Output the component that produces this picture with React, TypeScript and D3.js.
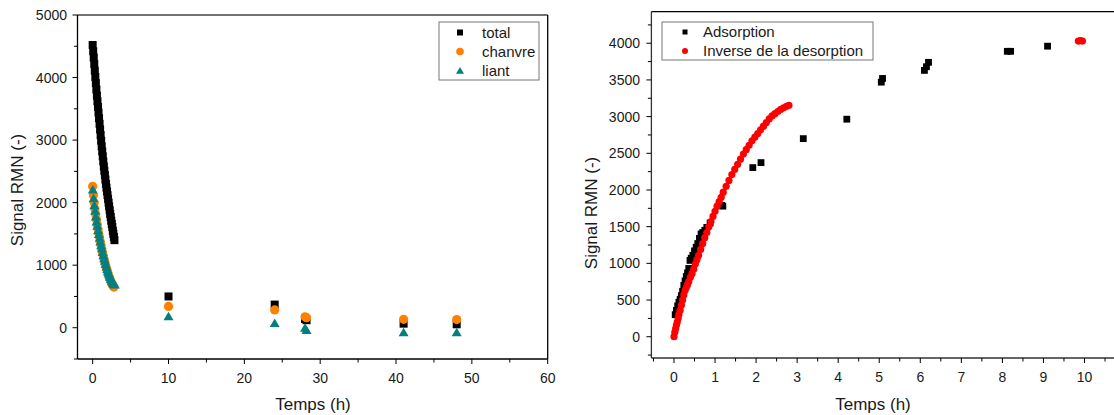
import React from "react";
import * as d3 from "d3";

// ---------- Left chart data ----------
const totalT = [0, 0.07, 0.14, 0.21, 0.28, 0.35, 0.42, 0.49, 0.56, 0.63, 0.7, 0.77, 0.84, 0.91, 0.98, 1.05, 1.12, 1.19, 1.26, 1.33, 1.4, 1.47, 1.54, 1.61, 1.68, 1.75, 1.82, 1.89, 1.96, 2.03, 2.1, 2.17, 2.24, 2.31, 2.38, 2.45, 2.52, 2.59, 2.66, 2.73, 2.8, 2.87, 10, 24, 28, 28.2, 41, 48];
const totalV = [4520, 4420, 4320, 4220, 4110, 4010, 3910, 3810, 3710, 3620, 3530, 3440, 3350, 3260, 3170, 3080, 2990, 2900, 2820, 2740, 2660, 2580, 2510, 2440, 2370, 2300, 2240, 2180, 2120, 2060, 2000, 1940, 1880, 1820, 1770, 1710, 1660, 1610, 1550, 1500, 1450, 1400, 500, 370, 140, 120, 65, 55];

const chanvreT = [0, 0.1, 0.2, 0.3, 0.4, 0.5, 0.6, 0.7, 0.8, 0.9, 1.0, 1.1, 1.2, 1.3, 1.4, 1.5, 1.6, 1.7, 1.8, 1.9, 2.0, 2.1, 2.2, 2.3, 2.4, 2.5, 2.6, 2.7, 2.8, 10, 24, 28, 28.2, 41, 48];
const chanvreV = [2260, 2120, 2000, 1900, 1810, 1730, 1650, 1580, 1510, 1450, 1380, 1320, 1260, 1200, 1150, 1100, 1050, 1000, 960, 920, 880, 840, 800, 770, 740, 710, 690, 665, 650, 340, 285, 175, 160, 135, 130];

const liantT = [0.02, 0.12, 0.22, 0.32, 0.42, 0.52, 0.62, 0.72, 0.82, 0.92, 1.02, 1.12, 1.22, 1.32, 1.42, 1.52, 1.62, 1.72, 1.82, 1.92, 2.02, 2.12, 2.22, 2.32, 2.42, 2.52, 2.62, 2.72, 2.82, 2.92, 10, 24, 28, 28.2, 41, 48];
const liantV = [2200, 2060, 1950, 1860, 1770, 1690, 1620, 1550, 1490, 1430, 1370, 1310, 1260, 1200, 1150, 1100, 1060, 1010, 970, 930, 890, 860, 830, 800, 770, 745, 720, 700, 690, 680, 175, 65, -10, -45, -80, -80];

const leftXTicks = [0, 10, 20, 30, 40, 50, 60];
const leftXMinor = [5, 15, 25, 35, 45, 55];
const leftYTicks = [0, 1000, 2000, 3000, 4000, 5000];
const leftYMinor = [-500, 500, 1500, 2500, 3500, 4500];
const leftLegend = ["total", "chanvre", "liant"];

// ---------- Right chart data ----------
const adsT = [0.03, 0.06, 0.09, 0.12, 0.15, 0.18, 0.21, 0.24, 0.27, 0.3, 0.33, 0.36, 0.39, 0.42, 0.46, 0.5, 0.54, 0.58, 0.62, 0.66, 0.7, 0.75, 0.8, 0.88, 1.16, 1.19, 1.92, 2.12, 3.15, 4.21, 5.05, 5.08, 6.1, 6.15, 6.2, 8.12, 8.2, 9.1];
const adsV = [300, 360, 420, 470, 510, 560, 620, 700, 760, 820, 870, 930, 1040, 1070, 1110, 1170, 1220, 1270, 1340, 1400, 1420, 1450, 1490, 1550, 1790, 1780, 2305, 2373, 2700, 2965, 3470, 3520, 3630, 3680, 3740, 3890, 3890, 3960];

const desT = [0, 0.02, 0.04, 0.06, 0.08, 0.1, 0.12, 0.15, 0.18, 0.21, 0.24, 0.27, 0.3, 0.33, 0.36, 0.4, 0.44, 0.48, 0.52, 0.56, 0.6, 0.65, 0.7, 0.75, 0.8, 0.85, 0.9, 0.95, 1.0, 1.05, 1.1, 1.15, 1.2, 1.27, 1.34, 1.41, 1.48, 1.55, 1.62, 1.69, 1.76, 1.83, 1.9, 1.97, 2.04, 2.11, 2.18, 2.25, 2.32, 2.39, 2.46, 2.53, 2.6, 2.67, 2.74, 2.8, 9.85, 9.9, 9.95];
const desV = [0, 60, 110, 160, 200, 250, 300, 360, 430, 500, 570, 630, 670, 710, 750, 810, 860, 920, 990, 1050, 1110, 1190, 1270, 1350, 1420, 1500, 1570, 1640, 1710, 1780, 1840, 1900, 1970, 2050, 2130, 2210, 2280, 2350, 2420, 2490, 2550, 2610, 2670, 2720, 2770, 2820, 2870, 2920, 2970, 3010, 3040, 3070, 3100, 3120, 3140, 3155, 4030, 4035, 4030];

const rightXTicks = [0, 1, 2, 3, 4, 5, 6, 7, 8, 9, 10];
const rightXMinor = [-0.5, 0.5, 1.5, 2.5, 3.5, 4.5, 5.5, 6.5, 7.5, 8.5, 9.5, 10.5];
const rightYTicks = [0, 500, 1000, 1500, 2000, 2500, 3000, 3500, 4000];
const rightYMinor = [-250, 250, 750, 1250, 1750, 2250, 2750, 3250, 3750, 4250];
const rightLegend = ["Adsorption", "Inverse de la desorption"];

const FONT = "Arial, 'Liberation Sans', sans-serif";
const ORANGE = "#FF8000";
const TEAL = "#008080";
const RED = "#FF0000";

const tri = (cx: number, cy: number, w: number) => {
  const h = w * 0.85;
  return `M${cx},${cy - h * 0.6}L${cx + w / 2},${cy + h * 0.4}L${cx - w / 2},${cy + h * 0.4}Z`;
};

export default function App() {
  // Left chart scales
  const lx = d3.scaleLinear().domain([-2, 60]).range([77.5, 547.7]);
  const ly = d3.scaleLinear().domain([-500, 5000]).range([359, 15]);
  const lLeft = 77.5, lRight = 547.7, lTop = 15, lBottom = 359;

  // Right chart scales
  const rx = d3.scaleLinear().domain([-0.55, 10.85]).range([651.4, 1119.4]);
  const ry = d3.scaleLinear().domain([-290, 4430]).range([358, 11.7]);
  const rLeft = 651.4, rTop = 11.7, rBottom = 358;

  const tickText = { fontFamily: FONT, fontSize: 14, fill: "#1a1a1a" } as const;
  const legText = { fontFamily: FONT, fontSize: 15, fill: "#1a1a1a" } as const;
  const titleText = { fontFamily: FONT, fontSize: 17, fill: "#1a1a1a" } as const;

  return (
    <div style={{ position: "absolute", left: 0, top: 0 }}>
      <svg width={1114} height={415} style={{ display: "block", background: "#fff" }}>
        <rect x={0} y={0} width={1114} height={415} fill="#fff" />
        {/* ===== LEFT CHART ===== */}
        <g>
          {totalT.map((t, i) => (
            <rect key={"tot" + i} x={lx(t) - 4} y={ly(totalV[i]) - 4} width={8} height={8} fill="#000" />
          ))}
          {chanvreT.map((t, i) => (
            <circle key={"ch" + i} cx={lx(t)} cy={ly(chanvreV[i])} r={4.6} fill={ORANGE} />
          ))}
          {liantT.map((t, i) => (
            <path key={"li" + i} d={tri(lx(t), ly(liantV[i]), 10)} fill={TEAL} />
          ))}
          <line x1={lLeft} x2={lRight} y1={lTop} y2={lTop} stroke="#444" strokeWidth={1.3} />
          <line x1={lRight} x2={lRight} y1={lTop} y2={lBottom} stroke="#000" strokeWidth={1.3} />
          <line x1={lLeft} x2={lLeft} y1={lTop} y2={lBottom} stroke="#000" strokeWidth={1.3} />
          <line x1={lLeft} x2={lRight} y1={lBottom} y2={lBottom} stroke="#000" strokeWidth={1.3} />
          {leftXTicks.map((v) => (
            <g key={"lxt" + v}>
              <line x1={lx(v)} x2={lx(v)} y1={lBottom} y2={lBottom + 5} stroke="#000" />
              <text x={lx(v)} y={383} textAnchor="middle" {...tickText}>{v}</text>
            </g>
          ))}
          {leftXMinor.map((v) => (
            <line key={"lxm" + v} x1={lx(v)} x2={lx(v)} y1={lBottom} y2={lBottom + 3.5} stroke="#000" />
          ))}
          {leftYTicks.map((v) => (
            <g key={"lyt" + v}>
              <line x1={lLeft - 5} x2={lLeft} y1={ly(v)} y2={ly(v)} stroke="#000" />
              <text x={67} y={ly(v) + 5} textAnchor="end" {...tickText}>{v}</text>
            </g>
          ))}
          {leftYMinor.map((v) => (
            <line key={"lym" + v} x1={lLeft - 3.5} x2={lLeft} y1={ly(v)} y2={ly(v)} stroke="#000" />
          ))}
          <text x={313} y={410} textAnchor="middle" {...titleText}>Temps (h)</text>
          <text transform="translate(23,190) rotate(-90)" textAnchor="middle" {...titleText}>Signal RMN (-)</text>
          <rect x={439} y={22} width={100} height={58} fill="#fff" stroke="#777" strokeWidth={1} />
          {leftLegend.map((name, i) => {
            const cy = 32.5 + i * 19;
            return (
              <g key={"lleg" + name}>
                {i === 0 && <rect x={457} y={cy - 3} width={6} height={6} fill="#000" />}
                {i === 1 && <circle cx={460} cy={cy} r={3.8} fill={ORANGE} />}
                {i === 2 && <path d={tri(460, cy + 0.5, 8)} fill={TEAL} />}
                <text x={482} y={cy + 5} {...legText}>{name}</text>
              </g>
            );
          })}
        </g>

        {/* ===== RIGHT CHART ===== */}
        <g>
          {adsT.map((t, i) => (
            <rect key={"ad" + i} x={rx(t) - 3.4} y={ry(adsV[i]) - 3.4} width={6.8} height={6.8} fill="#000" />
          ))}
          {desT.map((t, i) => (
            <circle key={"de" + i} cx={rx(t)} cy={ry(desV[i])} r={3.6} fill={RED} />
          ))}
          <line x1={rLeft} x2={1114} y1={rTop} y2={rTop} stroke="#000" strokeWidth={1.3} />
          <line x1={rLeft} x2={rLeft} y1={rTop} y2={rBottom} stroke="#333" strokeWidth={1.3} />
          <line x1={rLeft} x2={1114} y1={rBottom} y2={rBottom} stroke="#333" strokeWidth={1.3} />
          {rightXTicks.map((v) => (
            <g key={"rxt" + v}>
              <line x1={rx(v)} x2={rx(v)} y1={rBottom} y2={rBottom + 5} stroke="#000" />
              <text x={rx(v)} y={382} textAnchor="middle" {...tickText}>{v}</text>
            </g>
          ))}
          {rightXMinor.map((v) => (
            <line key={"rxm" + v} x1={rx(v)} x2={rx(v)} y1={rBottom} y2={rBottom + 3.5} stroke="#000" />
          ))}
          {rightYTicks.map((v) => (
            <g key={"ryt" + v}>
              <line x1={rLeft - 5} x2={rLeft} y1={ry(v)} y2={ry(v)} stroke="#000" />
              <text x={640} y={ry(v) + 5} textAnchor="end" {...tickText}>{v}</text>
            </g>
          ))}
          {rightYMinor.map((v) => (
            <line key={"rym" + v} x1={rLeft - 3.5} x2={rLeft} y1={ry(v)} y2={ry(v)} stroke="#000" />
          ))}
          <text x={873} y={410} textAnchor="middle" {...titleText}>Temps (h)</text>
          <text transform="translate(597,213) rotate(-90)" textAnchor="middle" {...titleText}>Signal RMN (-)</text>
          <rect x={662} y={22} width={211} height={38} fill="#fff" stroke="#777" strokeWidth={1} />
          {rightLegend.map((name, i) => {
            const cy = 32 + i * 19;
            return (
              <g key={"rleg" + name}>
                {i === 0 ? (
                  <rect x={682.5} y={cy - 2.5} width={5} height={5} fill="#000" />
                ) : (
                  <circle cx={685} cy={cy} r={3} fill={RED} />
                )}
                <text x={703} y={cy + 5} {...legText}>{name}</text>
              </g>
            );
          })}
        </g>
      </svg>
    </div>
  );
}
